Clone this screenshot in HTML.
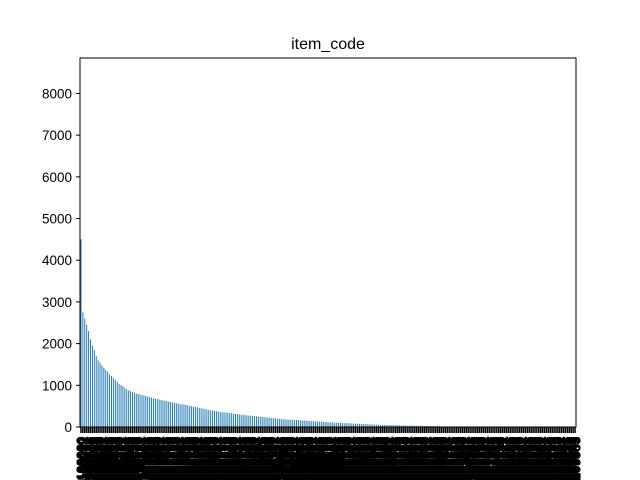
<!DOCTYPE html>
<html><head><meta charset="utf-8"><style>
html,body{margin:0;padding:0;background:#fff;width:640px;height:480px;overflow:hidden}
svg{display:block;font-family:"Liberation Sans","DejaVu Sans",sans-serif}
</style></head><body>
<svg id="chart" width="640" height="480" viewBox="0 0 640 480" xmlns="http://www.w3.org/2000/svg">
<text x="328" y="49" font-size="16" text-anchor="middle" fill="#000">item_code</text>
<g id="bars"></g>
<g id="yaxis"></g>
<g id="xaxis"></g>
<rect x="80" y="58" width="496" height="369" fill="none" stroke="#000" stroke-width="1"/>
</svg>
<script>
const values = [4500,2750,2600,2450,2300,2100,1950,1850,1700,1600,1550,1480,1420,1370,1330,1260,1220,1170,1130,1090,1030,1000,980,940,900,880,860,840,820,800,
790,780,770,760,745,730,715,700,690,680,670,660,650,640,630,620,610,600,590,580,570,560,550,545,540,530,520,510,500,490,480,470,460,450,440,430,420,410,400,
395,390,380,370,360,355,350,345,340,335,330,320,315,310,300,295,290,285,280,275,270,
265,260,255,250,245,240,235,230,225,220,215,210,205,200,195,190,185,180,178,176,174,172,170,168,165,162,
160,156,152,148,145,142,138,135,132,130,127,124,121,118,115,112,110,107,104,101,98,95,93,91,89,87,
85,82,80,78,76,74,72,70,68,66,64,62,60,58,56,54,52,50,48,47,46,45,44,42,41,40,
38,37,36,35,34,33,32,31,30,29,28,27,26,25,24,23,22,21,20,20,19,
3,3,3,3,3,3,3,3,2,2,2,2,2,2,2,2,2,2,2,2,2,2,2,2,2,2,2,1,1,1,1,1,1,1,1,1,1,1,1,1,1,1,1,1,1,1,1,1,1,1,1,1,1,1,1,1,1,1,1,1,1,1,1,1,1,1,1,1,1,1,1];
const categories = [];
for (let i = 0; i < values.length; i++) categories.push(String(100000 + i * 37));
const yTicks = [0,1000,2000,3000,4000,5000,6000,7000,8000];
const yMax = 8850;
const NS = "http://www.w3.org/2000/svg";
const L = 80, R = 576, T = 58, B = 427;
const step = (R - L) / values.length;
function xPos(i){ return L + (i + 0.5) * step; }
function yPos(v){ return B - v / yMax * (B - T); }
const bars = document.getElementById('bars'), ya = document.getElementById('yaxis'), xa = document.getElementById('xaxis');
values.forEach((v, i) => {
  const r = document.createElementNS(NS, 'rect');
  
  
  r.setAttribute('x', xPos(i) - step / 4);
  r.setAttribute('width', step / 2);
  r.setAttribute('y', yPos(v));
  r.setAttribute('height', B - yPos(v));
  r.setAttribute('fill', '#1f77b4');
  bars.appendChild(r);
  const t = document.createElementNS(NS, 'line');
  
  
  t.setAttribute('x1', xPos(i)); t.setAttribute('x2', xPos(i));
  t.setAttribute('y1', B); t.setAttribute('y2', B + 6);
  t.setAttribute('stroke', '#000'); t.setAttribute('stroke-width', '1.5');
  xa.appendChild(t);
  const lb = document.createElementNS(NS, 'text');
  
  
  lb.setAttribute('font-size', '13');
  lb.setAttribute('stroke', '#000');
  lb.setAttribute('stroke-width', '1.2');
  lb.setAttribute('text-anchor', 'end');
  lb.setAttribute('transform', 'translate(' + (xPos(i) + 5) + ',' + (B + 10) + ') rotate(-90)');
  lb.textContent = categories[i];
  xa.appendChild(lb);
});
yTicks.forEach(v => {
  const t = document.createElementNS(NS, 'line');
  
  
  t.setAttribute('x1', L - 4); t.setAttribute('x2', L);
  t.setAttribute('y1', yPos(v)); t.setAttribute('y2', yPos(v));
  t.setAttribute('stroke', '#000');
  ya.appendChild(t);
  const lb = document.createElementNS(NS, 'text');
  
  
  lb.setAttribute('x', L - 8); lb.setAttribute('y', yPos(v) + 5);
  lb.setAttribute('font-size', '13.5');
  lb.setAttribute('text-anchor', 'end');
  lb.textContent = v;
  ya.appendChild(lb);
});
</script>
</body></html>
